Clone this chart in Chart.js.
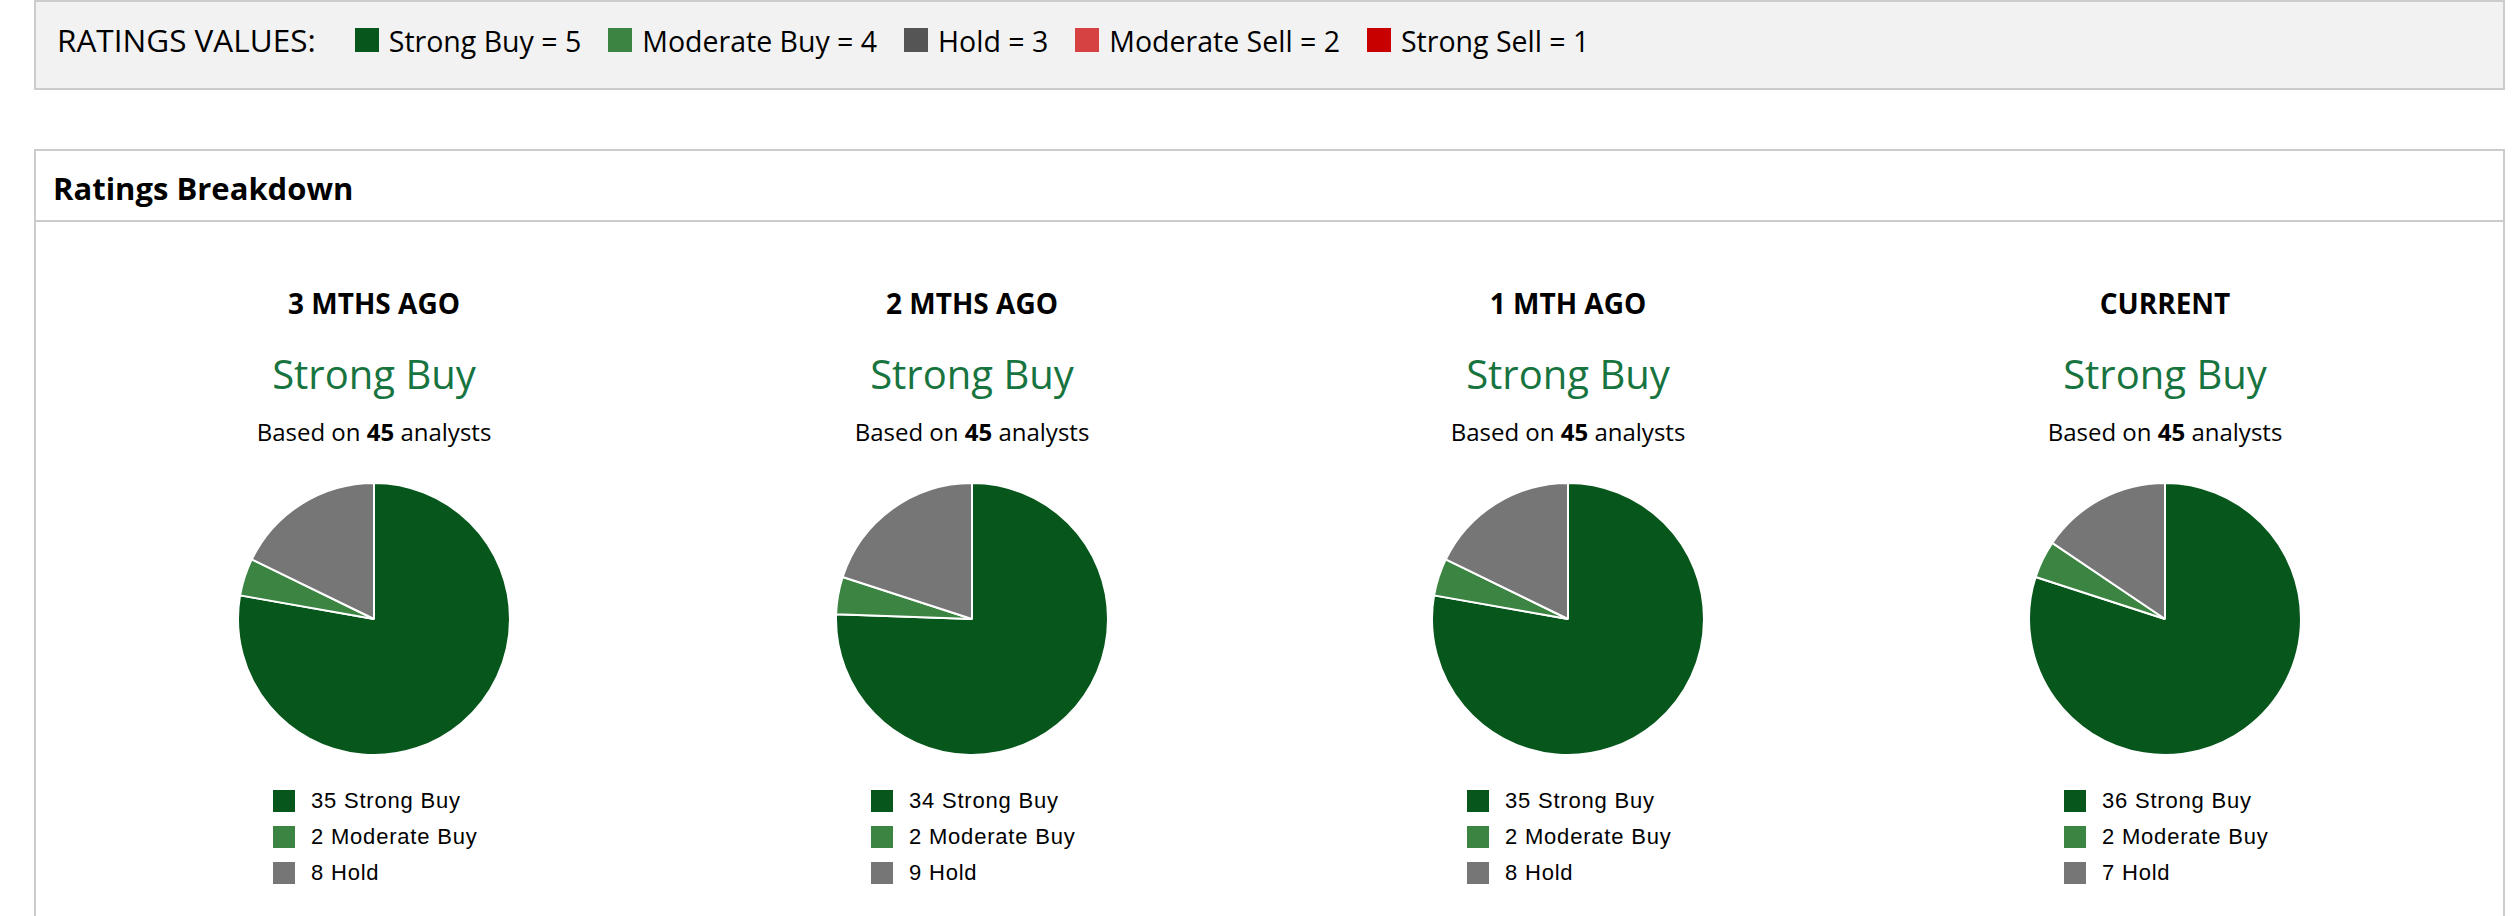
<!DOCTYPE html>
<html>
<head>
<meta charset="utf-8">
<script src="https://cdn.jsdelivr.net/npm/chart.js@4.4.1/dist/chart.umd.min.js"></script>
<style>
  html, body { margin: 0; padding: 0; background: #fff; width: 2518px; height: 916px; overflow: hidden; }
  body { position: relative; font-family: "Open Sans", sans-serif; color: #000; }
  #topbox { position: absolute; left: 34px; top: 0; width: 2467px; height: 86px; background: #f2f2f2; border: 2px solid #cccccc; }
  #scale { position: absolute; left: 21px; top: 22px; display: flex; align-items: flex-start; white-space: nowrap; }
  #scale .lead { margin-right: 39px; font-size: 31.5px; line-height: 31.5px; }
  #scale .sq { width: 24px; height: 24px; margin-top: 4px; margin-right: 10px; flex: none; }
  #scale .txt { margin-right: 27px; font-size: 28.5px; line-height: 28.5px; margin-top: 2.7px; }
  #breakdown { position: absolute; left: 34px; top: 149px; width: 2467px; height: 800px; border: 2px solid #cccccc; background: #fff; }
  #bdhead { position: absolute; left: 0; top: 0; width: 100%; height: 69px; border-bottom: 2px solid #cccccc; }
  #bdhead span { position: absolute; left: 17px; top: 22px; font-size: 31px; line-height: 31px; font-weight: 700; }
  .col { position: absolute; top: 0; width: 560px; }
  .col .ttl { position: absolute; left: 0; width: 100%; text-align: center; font-weight: 700; font-size: 28px; line-height: 28px; top: 289px; }
  .col .cons { position: absolute; left: 0; width: 100%; text-align: center; color: #17743f; font-size: 40px; line-height: 40px; top: 354px; }
  .col .based { position: absolute; left: 0; width: 100%; text-align: center; font-size: 24px; line-height: 24px; top: 420px; }
  .col .pie { position: absolute; top: 482px; width: 274px; height: 274px; }
  .col .lg { position: absolute; top: 790px; font-family: "Liberation Sans", Arial, sans-serif; font-size: 22px; letter-spacing: 0.8px; }
  .col .lg .row { display: flex; align-items: center; height: 22px; margin-bottom: 14px; white-space: nowrap; }
  .col .lg .box { width: 22px; height: 22px; margin-right: 16px; flex: none; }
</style>
</head>
<body>
<div id="topbox"><div id="scale"></div></div>
<div id="breakdown"><div id="bdhead"><span>Ratings Breakdown</span></div></div>
<div id="cols"></div>
<script>
// ---- data ----
const ratingScaleLabels = ['Strong Buy = 5', 'Moderate Buy = 4', 'Hold = 3', 'Moderate Sell = 2', 'Strong Sell = 1'];
const ratingScaleColors = ['#07561c', '#3b8441', '#555555', '#d64141', '#c80000'];
const periods = ['3 MTHS AGO', '2 MTHS AGO', '1 MTH AGO', 'CURRENT'];
const consensus = ['Strong Buy', 'Strong Buy', 'Strong Buy', 'Strong Buy'];
const analystCounts = [45, 45, 45, 45];
const ratingLabels = ['Strong Buy', 'Moderate Buy', 'Hold'];
const strongBuy = [35, 34, 35, 36];
const moderateBuy = [2, 2, 2, 2];
const hold = [8, 9, 8, 7];
const sliceColors = ['#07561c', '#3b8441', '#767676'];

// ---- top ratings scale legend ----
const scale = document.getElementById('scale');
const lead = document.createElement('span');
lead.className = 'lead';
lead.textContent = 'RATINGS VALUES:';
scale.appendChild(lead);
ratingScaleLabels.forEach((t, i) => {
  const sq = document.createElement('span');
  sq.className = 'sq';
  sq.style.background = ratingScaleColors[i];
  scale.appendChild(sq);
  const tx = document.createElement('span');
  tx.className = 'txt';
  tx.textContent = t;
  scale.appendChild(tx);
});

// ---- pie columns ----
const centers = [374, 972, 1568, 2165];
const cols = document.getElementById('cols');
periods.forEach((p, i) => {
  const col = document.createElement('div');
  col.className = 'col';
  col.style.left = (centers[i] - 280) + 'px';
  const ttl = document.createElement('div'); ttl.className = 'ttl'; ttl.textContent = p; col.appendChild(ttl);
  const cons = document.createElement('div'); cons.className = 'cons'; cons.textContent = consensus[i]; col.appendChild(cons);
  const based = document.createElement('div'); based.className = 'based';
  based.append('Based on ');
  const b = document.createElement('b'); b.textContent = analystCounts[i]; based.appendChild(b);
  based.append(' analysts');
  col.appendChild(based);
  const wrap = document.createElement('div'); wrap.className = 'pie';
  wrap.style.left = (280 - 137) + 'px';
  const cv = document.createElement('canvas');
  wrap.appendChild(cv);
  col.appendChild(wrap);
  const lg = document.createElement('div'); lg.className = 'lg';
  lg.style.left = (280 - 101) + 'px';
  col.appendChild(lg);
  cols.appendChild(col);

  const values = [strongBuy[i], moderateBuy[i], hold[i]];
  const chart = new Chart(cv, {
    type: 'pie',
    data: {
      labels: ratingLabels,
      datasets: [{
        data: values,
        backgroundColor: sliceColors,
        borderColor: '#ffffff',
        borderWidth: 2
      }]
    },
    options: {
      responsive: true,
      maintainAspectRatio: false,
      animation: false,
      layout: { padding: 0 },
      plugins: { legend: { display: false }, tooltip: { enabled: false } }
    }
  });
  // HTML legend built from chart data
  chart.data.labels.forEach((lab, k) => {
    const row = document.createElement('div'); row.className = 'row';
    const bx = document.createElement('span'); bx.className = 'box';
    bx.style.background = chart.data.datasets[0].backgroundColor[k];
    row.appendChild(bx);
    const t = document.createElement('span');
    t.textContent = chart.data.datasets[0].data[k] + ' ' + lab;
    row.appendChild(t);
    lg.appendChild(row);
  });
});
</script>
</body>
</html>
